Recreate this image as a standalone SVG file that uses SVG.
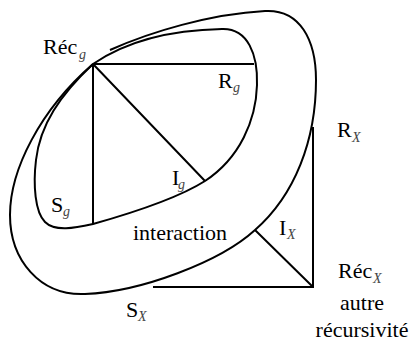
<svg xmlns="http://www.w3.org/2000/svg" width="414" height="342" viewBox="0 0 414 342">
<style>
.ln{fill:none;stroke:#000;stroke-width:2;stroke-linecap:butt;stroke-linejoin:miter}
.cv{fill:none;stroke:#000;stroke-width:2}
.t{font-family:'Liberation Serif',Tinos,'Times New Roman','DejaVu Serif',serif;font-size:22px;fill:#000}
.s{font-family:'Liberation Serif',Tinos,'Times New Roman','DejaVu Serif',serif;font-size:14px;font-style:italic;fill:#444}
.c{text-anchor:middle}
</style>
<rect width="414" height="342" fill="#fff"/>
<g id="loops">
<path id="inner-loop" class="cv" d="M93,64 C125,42 170,30 222,29 C248,28 258,55 257,85 C256,120 240,158 205,181 C175,200 125,215 93,224 C75,228 55,232 45,222 C35,212 33,185 36,160 C40,125 60,95 93,64 Z"/>
<path id="outer-loop" class="cv" d="M110,50 C150,32 210,14 265,11 C300,9 316,40 316,80 C316,140 295,195 255,230 C220,262 140,292 85,294 C40,296 10,260 10,215 C10,170 40,110 93,64"/>
</g>
<g id="connectors">
<path class="ln" d="M93,64 H254 M93,64 V224 M93,64 L205,181"/>
<path class="ln" d="M313,127 V287 H153 M255,230 L313,287"/>
</g>
<g id="rec-g"><text class="t" x="43" y="54" font-family="Liberation Serif, serif">Réc</text><text class="s" x="79" y="59" font-family="Liberation Serif, serif">g</text></g>
<g id="r-g"><text class="t" x="218" y="88" font-family="Liberation Serif, serif">R</text><text class="s" x="233" y="92" font-family="Liberation Serif, serif">g</text></g>
<g id="i-g"><text class="t" x="172" y="185" font-family="Liberation Serif, serif">I</text><text class="s" x="178" y="189" font-family="Liberation Serif, serif">g</text></g>
<g id="s-g"><text class="t" x="51" y="212" font-family="Liberation Serif, serif">S</text><text class="s" x="63" y="216" font-family="Liberation Serif, serif">g</text></g>
<g id="interaction"><text class="t" x="133" y="240" font-family="Liberation Serif, serif">interaction</text></g>
<g id="r-x"><text class="t" x="337" y="137" font-family="Liberation Serif, serif">R</text><text class="s" x="352" y="142" font-family="Liberation Serif, serif">X</text></g>
<g id="i-x"><text class="t" x="279" y="235" font-family="Liberation Serif, serif">I</text><text class="s" x="287" y="239" font-family="Liberation Serif, serif">X</text></g>
<g id="s-x"><text class="t" x="126" y="317" font-family="Liberation Serif, serif">S</text><text class="s" x="138" y="321" font-family="Liberation Serif, serif">X</text></g>
<g id="rec-x"><text class="t" x="338" y="278" font-family="Liberation Serif, serif">Réc</text><text class="s" x="373" y="283" font-family="Liberation Serif, serif">X</text>
<text class="t c" x="362" y="310" font-family="Liberation Serif, serif">autre</text>
<text class="t c" x="362" y="337" font-family="Liberation Serif, serif">récursivité</text></g>
</svg>
